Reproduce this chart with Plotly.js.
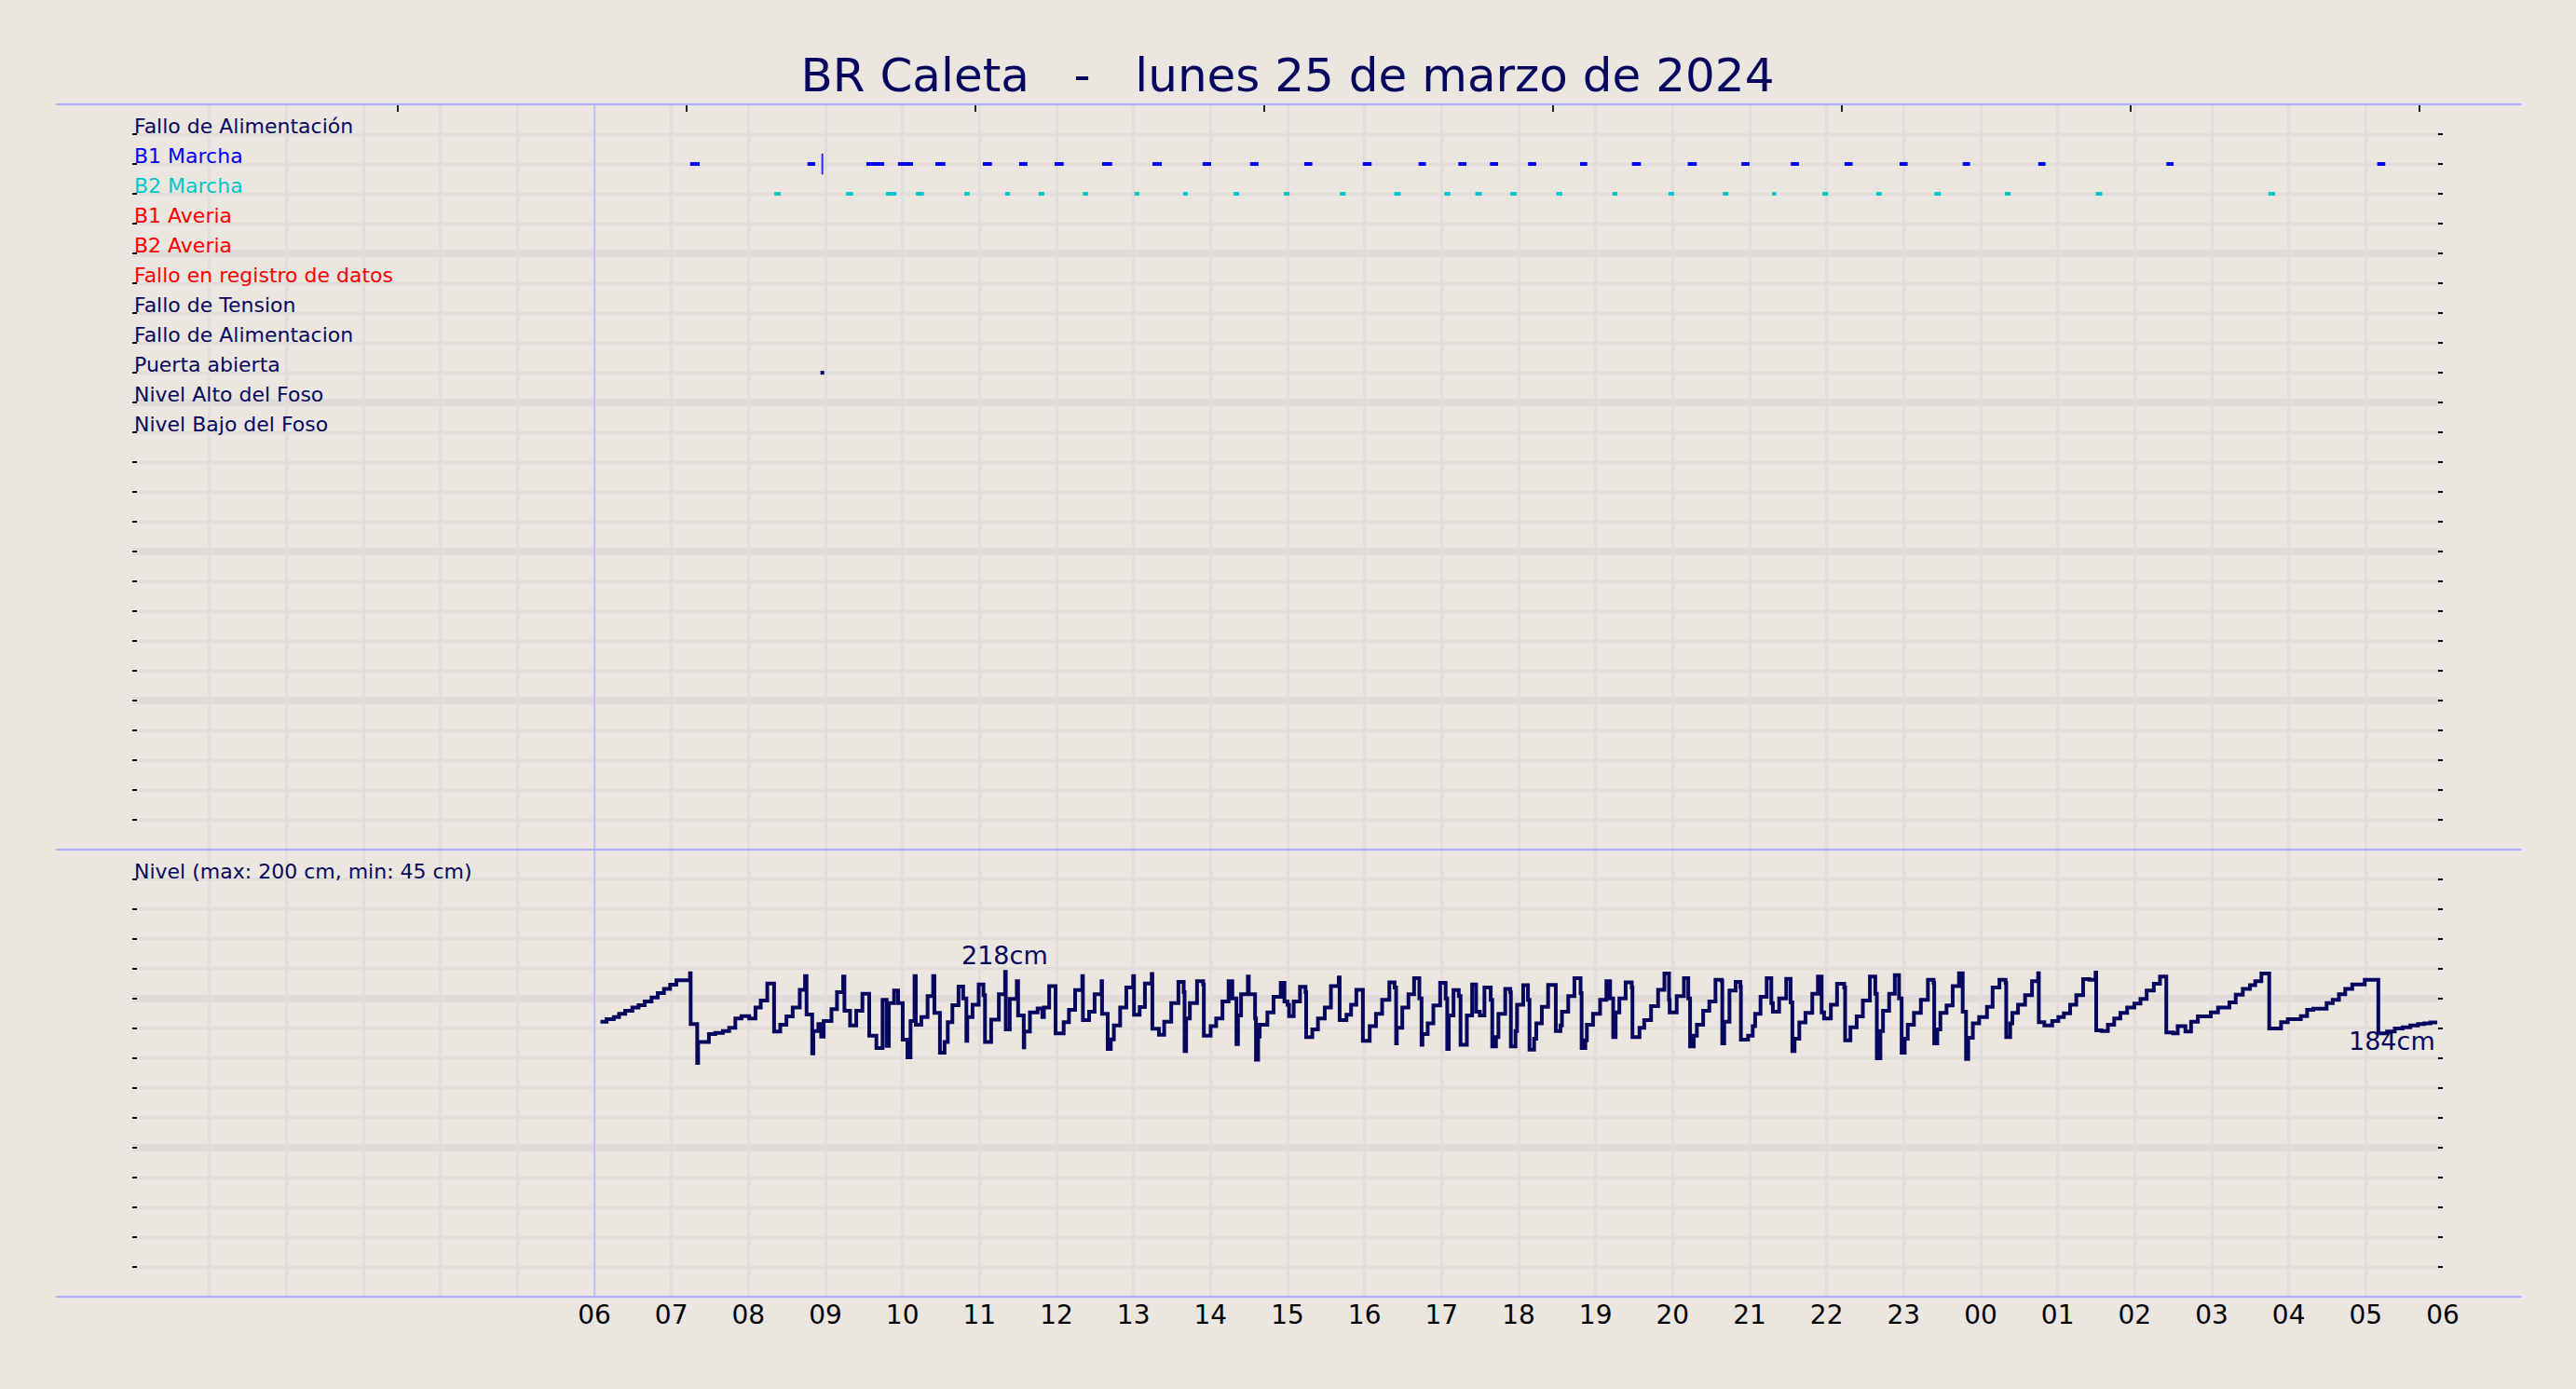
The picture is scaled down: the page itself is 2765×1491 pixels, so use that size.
<!DOCTYPE html>
<html>
<head>
<meta charset="utf-8">
<script src="https://cdn.plot.ly/plotly-3.0.1.min.js"></script>
<style>
	html, body { margin: 0; padding: 0; background: #ebe6e0; }
	#chart { width: 2765px; height: 1491px; }
</style>
</head>
<body>
<div id="chart"></div>
<script>
(function () {

	'use strict';

	const chartTitle = 'BR Caleta\u00a0\u00a0\u00a0-\u00a0\u00a0\u00a0lunes 25 de marzo de 2024';

	// event rows, top to bottom (row 1 .. 11)
	const rowLabels = [
		'Fallo de Alimentación', 'B1 Marcha', 'B2 Marcha', 'B1 Averia', 'B2 Averia',
		'Fallo en registro de datos', 'Fallo de Tension', 'Fallo de Alimentacion',
		'Puerta abierta', 'Nivel Alto del Foso', 'Nivel Bajo del Foso'
	];
	const rowColors = [
		'#08085e', '#0000ff', '#00c8c8', '#ff0000', '#ff0000',
		'#ff0000', '#08085e', '#08085e', '#08085e', '#08085e', '#08085e'
	];

	const levelLabel = 'Nivel (max: 200 cm, min: 45 cm)';

	// x axis: minutes from 00:00 of the 25th
	const hourTickVals = [0, 60, 120, 180, 240, 300, 360, 420, 480, 540, 600, 660, 720, 780, 840, 900,
		960, 1020, 1080, 1140, 1200, 1260, 1320, 1380, 1440, 1500, 1560, 1620, 1680, 1740, 1800];
	const hourTickText = ['', '', '', '', '', '', '06', '07', '08', '09', '10', '11', '12', '13', '14', '15',
		'16', '17', '18', '19', '20', '21', '22', '23', '00', '01', '02', '03', '04', '05', '06'];
	const topTickVals = [207, 432, 657, 882, 1107, 1332, 1557, 1782];
	const dayStart = 360;

	// B1 Marcha (start / end, minutes)
	const b1Start = [434.6, 526.0, 571.9, 596.5, 625.6, 662.6, 690.9, 718.5, 755.5, 794.8, 833.8, 870.8,
		913.0, 958.6, 1002.1, 1033.1, 1057.7, 1087.4, 1127.9, 1168.3, 1211.8, 1253.6, 1292.1, 1333.9,
		1376.8, 1426.0, 1484.8, 1584.7, 1748.9];
	const b1End = [442.0, 532.0, 585.7, 608.2, 633.5, 669.7, 697.4, 725.6, 763.4, 802.0, 840.5, 877.4,
		919.3, 965.5, 1007.8, 1039.4, 1064.0, 1093.7, 1133.5, 1175.3, 1218.8, 1259.9, 1298.4, 1340.2,
		1383.1, 1431.7, 1490.5, 1590.3, 1755.2];
	const b1Instant = [537.6];

	// B2 Marcha
	const b2Start = [500.2, 556.1, 587.2, 610.5, 648.2, 680.1, 706.0, 740.5, 780.8, 818.6, 857.9, 897.1,
		940.8, 983.2, 1022.3, 1046.3, 1073.5, 1109.5, 1153.1, 1196.8, 1239.1, 1277.6, 1316.7, 1358.5,
		1403.9, 1458.9, 1529.6, 1664.2];
	const b2End = [505.0, 561.6, 595.3, 616.7, 652.3, 683.8, 710.5, 744.6, 784.6, 822.3, 862.3, 901.6,
		945.2, 988.2, 1026.8, 1051.4, 1078.6, 1114.0, 1156.9, 1201.1, 1243.5, 1280.7, 1321.1, 1362.9,
		1409.0, 1463.3, 1534.7, 1669.3];

	// Puerta abierta
	const doorInstant = [537.6];

	// Nivel del foso (cm), step samples
	const levelTime = [
		364.7, 369.5, 375.1, 379.2, 384.0, 389.6, 394.4, 399.2, 404.5, 409.4, 414.2, 419.0, 423.9, 434.5,
		435.0, 440.1, 440.8, 449.2, 454.1, 460.1, 465.0, 469.8, 474.6, 480.6, 485.5, 489.6, 494.7, 500.0,
		504.8, 509.6, 514.5, 520.0, 524.1, 525.3, 529.7, 530.6, 534.5, 536.7, 538.6, 544.7, 549.0, 553.8,
		554.8, 559.2, 564.0, 568.8, 574.1, 579.7, 584.5, 587.7, 589.4, 593.5, 596.6, 600.2, 603.9, 606.3,
		609.4, 610.4, 614.7, 619.6, 623.9, 624.9, 629.2, 632.8, 635.3, 638.9, 643.7, 647.3, 649.8, 650.5,
		654.6, 659.4, 663.1, 664.3, 669.1, 675.1, 680.0, 680.5, 683.6, 689.1, 690.1, 694.5, 694.9, 699.3,
		705.3, 709.0, 710.2, 714.3,
		719.3, 725.6, 729.7, 734.5, 740.1, 740.6, 745.4, 749.7, 755.1, 755.5, 759.9, 762.3, 764.7, 769.6,
		774.4, 779.7, 780.4, 784.8, 788.9, 794.2, 794.7, 799.8, 803.9, 809.4, 815.0, 819.1, 819.8, 821.0,
		823.9, 829.5, 834.3, 834.8, 840.1, 844.4, 849.3, 854.1, 857.0, 860.2, 861.4, 863.8, 869.1, 869.8,
		874.7, 875.4, 877.1, 878.3, 884.3, 889.1, 894.7, 897.6, 900.0, 901.2, 904.8, 909.7, 914.0, 914.5,
		919.3, 923.7, 929.0, 933.8, 939.9, 940.6, 945.9, 949.5, 953.6, 958.7, 964.0, 968.9, 973.7, 979.3,
		983.4, 984.6, 985.1, 989.4, 994.2, 998.6, 1002.7, 1004.4, 1005.1, 1009.2, 1013.6, 1018.9, 1023.2,
		1024.4, 1025.6, 1029.3, 1033.4, 1034.8, 1039.7, 1043.8, 1046.9, 1049.8, 1053.4, 1058.3, 1059.5,
		1062.4, 1064.3, 1069.6, 1073.5, 1074.0, 1077.6,
		1078.8, 1083.6, 1087.3, 1088.5, 1092.1, 1093.8, 1098.1, 1103.0, 1109.0, 1112.6, 1113.8, 1118.7,
		1123.5, 1128.3, 1129.1, 1132.0, 1133.2, 1138.0, 1143.5, 1148.4, 1151.3, 1153.7, 1155.6, 1158.5,
		1163.4, 1168.2, 1168.7, 1174.2, 1177.9, 1183.2, 1188.7, 1193.6, 1197.2, 1197.7, 1203.2, 1208.8,
		1212.2, 1213.6, 1216.5, 1218.9, 1223.8, 1228.6, 1233.4, 1238.3, 1238.7, 1240.2, 1244.3, 1249.1,
		1252.8, 1253.2, 1258.8, 1262.4, 1264.3, 1268.5, 1273.3, 1276.9, 1278.1, 1283.0, 1288.5, 1291.9,
		1293.3, 1295.0, 1298.7, 1303.5, 1308.8, 1313.2, 1316.1, 1318.0, 1323.3, 1328.1, 1333.7, 1334.4,
		1338.5, 1343.4, 1348.2, 1353.7, 1357.9, 1359.1, 1361.9, 1363.9, 1368.7, 1373.1, 1376.4, 1378.4,
		1380.8, 1383.2, 1388.0, 1393.4, 1398.9, 1403.3, 1403.8, 1406.2, 1408.6, 1413.4, 1418.2, 1423.1,
		1426.0, 1428.6, 1430.3, 1433.9, 1438.8,
		1444.9, 1449.3, 1454.6, 1459.4, 1459.9, 1463.0, 1464.7, 1469.1, 1474.6, 1480.0, 1484.8, 1485.3,
		1489.6, 1495.7, 1500.5, 1504.8, 1509.7, 1514.5, 1519.8, 1524.6, 1529.5, 1530.0, 1534.3, 1539.1,
		1544.0, 1548.8, 1554.1, 1559.7, 1564.5, 1569.3, 1574.9, 1579.7, 1584.6, 1589.9, 1593.5, 1599.5,
		1603.9, 1609.2, 1619.3, 1624.9, 1633.8, 1638.7, 1644.2, 1649.8, 1653.9, 1658.7, 1664.8, 1674.0,
		1679.3, 1689.4, 1694.3, 1699.1, 1709.5, 1714.3, 1719.1, 1724.0, 1729.5, 1739.2, 1749.8, 1756.6,
		1762.6, 1768.7, 1774.7, 1780.7, 1785.6, 1790.4, 1795.7
	];
	const levelCm = [
		184.6, 186.3, 187.7, 189.8, 191.9, 194.0, 195.6, 198.1, 200.8, 203.8, 206.5, 209.4, 212.3, 217.0,
		182.9, 156.9, 171.0, 176.3, 177.1, 178.3, 180.4, 186.7, 188.3, 186.7, 194.0, 198.8, 210.2, 177.9,
		182.5, 188.1, 194.0, 206.0, 215.2, 189.4, 163.3, 178.3, 182.9, 174.6, 185.0, 192.9, 204.4, 214.8,
		191.9, 182.1, 191.9, 203.3, 175.2, 166.9, 199.2, 168.3, 197.1, 205.4, 197.1, 172.5, 160.6, 185.0,
		215.2, 182.5, 187.7, 201.7, 215.2, 190.4, 163.8, 171.0, 184.2, 195.6, 208.1, 200.2, 171.7, 187.7,
		196.0, 209.6, 202.3, 171.0, 186.0, 202.9, 218.0, 179.4, 199.8, 211.7, 188.8, 167.3, 177.9, 190.8,
		193.5, 187.7, 194.0, 208.5,
		176.7, 184.2, 192.5, 205.8, 215.2, 185.6, 191.3, 202.9, 211.7, 189.8, 166.3, 172.7, 182.1, 194.0,
		207.5, 215.2, 189.2, 194.4, 210.2, 216.5, 179.8, 175.8, 184.6, 197.1, 211.3, 204.4, 164.8, 186.7,
		197.1, 211.7, 209.6, 175.2, 181.5, 186.7, 198.1, 211.7, 200.2, 169.6, 188.8, 202.9, 214.8, 202.9,
		186.7, 159.0, 174.6, 182.5, 190.8, 201.3, 210.6, 198.1, 196.0, 188.3, 198.1, 207.9, 204.4, 174.2,
		179.4, 186.7, 194.0, 208.5, 214.2, 185.6, 189.2, 196.0, 206.0, 171.7, 181.5, 189.8, 199.2, 211.0,
		207.5, 170.0, 180.4, 194.0, 202.9, 213.8, 200.2, 169.0, 176.3, 183.5, 195.4, 210.6, 200.2,
		166.3, 188.8, 205.8, 201.7, 169.0, 188.8, 209.6, 191.3, 188.8, 207.5, 199.2, 167.9,
		174.2, 189.8, 206.5, 204.4, 167.9, 178.3,
		196.0, 209.0, 199.2, 165.8, 173.1, 183.5, 194.6, 209.2, 178.3, 182.1, 191.3, 201.7,
		213.8, 203.8, 166.9, 172.1, 182.5, 189.8, 199.2, 211.7, 200.2, 174.2, 190.8, 200.2,
		211.0, 207.5, 174.2, 180.4, 185.6, 195.0, 206.0, 216.9, 199.2, 190.8, 201.7, 213.8,
		200.2, 167.9, 175.2, 182.5, 191.9, 198.1, 212.7, 211.7, 170.0, 184.6, 205.4, 211.3,
		207.9, 172.5, 175.2, 181.5, 189.8, 201.3, 213.8, 197.1, 191.3, 200.2, 213.3, 197.5,
		164.8, 173.1, 184.0, 190.4, 203.3, 214.8, 190.8, 186.7, 196.0, 210.0, 207.5, 172.1,
		180.8, 188.1, 198.8, 214.8, 203.3, 160.0, 178.3, 191.9, 203.3, 215.8, 200.2, 163.8,
		173.1, 182.5, 190.4, 199.2, 212.7, 210.6, 170.0, 179.4, 190.4, 195.4, 208.5, 217.0,
		191.3, 159.6, 173.8, 183.5, 187.7,
		194.6, 207.5, 212.7, 210.6, 174.2, 183.5, 190.4, 196.0, 202.3, 211.7, 217.0, 184.2,
		182.1, 185.0, 187.7, 190.2, 196.0, 202.3, 213.1, 212.7, 217.5, 178.8, 178.3, 182.5,
		186.7, 190.4, 194.0, 196.7, 199.8, 205.4, 210.0, 214.8, 177.3, 176.7, 181.5, 177.9,
		184.6, 188.1, 190.8, 194.0, 197.5, 202.7, 206.5, 209.0, 211.7, 216.9, 180.0, 184.2,
		186.3, 188.3, 192.5, 193.3, 197.1, 199.2, 202.9, 206.5, 209.6, 212.7, 176.7, 177.9,
		180.0, 180.8, 182.1, 182.9, 183.5, 184.0, 184.0
	];

	// colours / fonts
	const bg = '#ebe6e0';
	const gridThin = '#e1ddda';
	const gridThick = '#e1dcda';
	const spine = '#adadff';
	const navy = '#07075f';
	const fontFamily = '"DejaVu Sans", "Liberation Sans", sans-serif';

	/**
	* segments on one event row, split by nulls
	*/
	const segmentTrace = ( starts, ends, row, color ) => {
		const x = [], y = [];
		starts.forEach( ( s, i ) => {
			x.push( s, ends[i], null );
			y.push( row, row, null );
		});
		return {
			x, y,
			mode: 'lines',
			line: { color, width: 4 },
			xaxis: 'x', yaxis: 'y',
			hoverinfo: 'skip'
		};
	};

	const rowOf = ( label ) => rowLabels.indexOf( label ) + 1;

	const data = [
		segmentTrace( b1Start, b1End, rowOf('B1 Marcha'), '#0000ff' ),
		segmentTrace( b2Start, b2End, rowOf('B2 Marcha'), '#00c8c8' ),
		{
			x: b1Instant,
			y: b1Instant.map( () => rowOf('B1 Marcha') ),
			mode: 'markers',
			marker: { symbol: 'line-ns', size: 16, line: { color: '#2a2aff', width: 2 } },
			xaxis: 'x', yaxis: 'y', hoverinfo: 'skip'
		},
		{
			x: doorInstant,
			y: doorInstant.map( () => rowOf('Puerta abierta') ),
			mode: 'markers',
			marker: { symbol: 'square', size: 4, color: navy },
			xaxis: 'x', yaxis: 'y', hoverinfo: 'skip'
		},
		{
			x: levelTime,
			y: levelCm,
			mode: 'lines',
			line: { shape: 'hv', color: navy, width: 4 },
			xaxis: 'x', yaxis: 'y2', hoverinfo: 'skip'
		},
		// carrier for the top tick axis
		{ x: [], y: [], mode: 'markers', xaxis: 'x2', yaxis: 'y', hoverinfo: 'skip' }
	];

	/*
	Labels: event rows, level panel, max & last level
	*/
	const annotations = rowLabels.map( ( text, i ) => ({
		text,
		xref: 'paper', x: 0, xanchor: 'left',
		yref: 'y', y: i + 1, yanchor: 'bottom', yshift: -6,
		showarrow: false,
		font: { family: fontFamily, size: 22, color: rowColors[i] }
	}));

	annotations.push({
		text: levelLabel,
		xref: 'paper', x: 0, xanchor: 'left',
		yref: 'y2', y: 280, yanchor: 'bottom', yshift: -6,
		showarrow: false,
		font: { family: fontFamily, size: 22, color: navy }
	});

	const maxCm = Math.max( ...levelCm );
	const maxIdx = levelCm.indexOf( maxCm );
	annotations.push({
		text: `${Math.round( maxCm )}cm`,
		xref: 'x', x: levelTime[maxIdx], xanchor: 'center',
		yref: 'y2', y: maxCm, yanchor: 'bottom', yshift: 0,
		showarrow: false,
		font: { family: fontFamily, size: 27, color: navy }
	});

	const lastIdx = levelCm.length - 1;
	annotations.push({
		text: `${Math.round( levelCm[lastIdx] )}cm`,
		xref: 'x', x: levelTime[lastIdx], xanchor: 'right',
		yref: 'y2', y: levelCm[lastIdx], yanchor: 'top', yshift: -2,
		showarrow: false,
		font: { family: fontFamily, size: 27, color: navy }
	});

	// panel frame lines
	const hLine = ( y ) => ({
		type: 'line', xref: 'paper', yref: 'paper',
		x0: -0.033, x1: 1.034, y0: y, y1: y,
		line: { color: spine, width: 2 }
	});

	const shapes = [
		hLine( 1 ), hLine( 0.375 ), hLine( 0 ),
		{
			type: 'line', xref: 'x', yref: 'paper',
			x0: dayStart, x1: dayStart, y0: 0, y1: 1,
			line: { color: '#b8b8ff', width: 1.5 }
		}
	];

	const rowAxis = ( domain, range, major, minor ) => ({
		domain, range,
		tickmode: 'linear', tick0: 0, dtick: major,
		showgrid: true, gridcolor: gridThick, gridwidth: 8,
		ticks: 'inside', ticklen: 5, tickwidth: 2, tickcolor: '#000',
		mirror: 'ticks',
		showticklabels: false, zeroline: false, showline: false,
		minor: {
			tick0: 0, dtick: minor,
			showgrid: true, gridcolor: gridThin, gridwidth: 3,
			ticks: 'inside', ticklen: 5, tickwidth: 2, tickcolor: '#000'
		},
		anchor: 'x'
	});

	const layout = {
		width: 2765, height: 1491,
		margin: { l: 142, r: 143, t: 112, b: 99 },
		paper_bgcolor: bg, plot_bgcolor: bg,
		showlegend: false,
		font: { family: fontFamily, color: '#000' },
		title: {
			text: chartTitle,
			font: { family: fontFamily, size: 50, color: navy },
			x: 0.5, xanchor: 'center', xref: 'paper',
			y: 1 - 80 / 1491, yanchor: 'middle', yref: 'container'
		},
		xaxis: {
			range: [0, 1800],
			tickmode: 'array', tickvals: hourTickVals, ticktext: hourTickText,
			showgrid: true, gridcolor: gridThin, gridwidth: 3,
			ticks: '', tickfont: { size: 28, color: '#000' },
			zeroline: false, showline: false,
			anchor: 'y2'
		},
		xaxis2: {
			range: [0, 1800], overlaying: 'x', side: 'top', anchor: 'y',
			tickmode: 'array', tickvals: topTickVals,
			ticks: 'inside', ticklen: 8, tickwidth: 2, tickcolor: '#222',
			showticklabels: false, showgrid: false, zeroline: false, showline: false
		},
		yaxis: rowAxis( [0.375, 1], [24.99, 0], 5, 1 ),
		yaxis2: rowAxis( [0, 0.375], [0, 299.99], 100, 20 ),
		annotations,
		shapes
	};

	Plotly.newPlot( 'chart', data, layout, { displayModeBar: false, responsive: false, staticPlot: true } );

})();
</script>
</body>
</html>
